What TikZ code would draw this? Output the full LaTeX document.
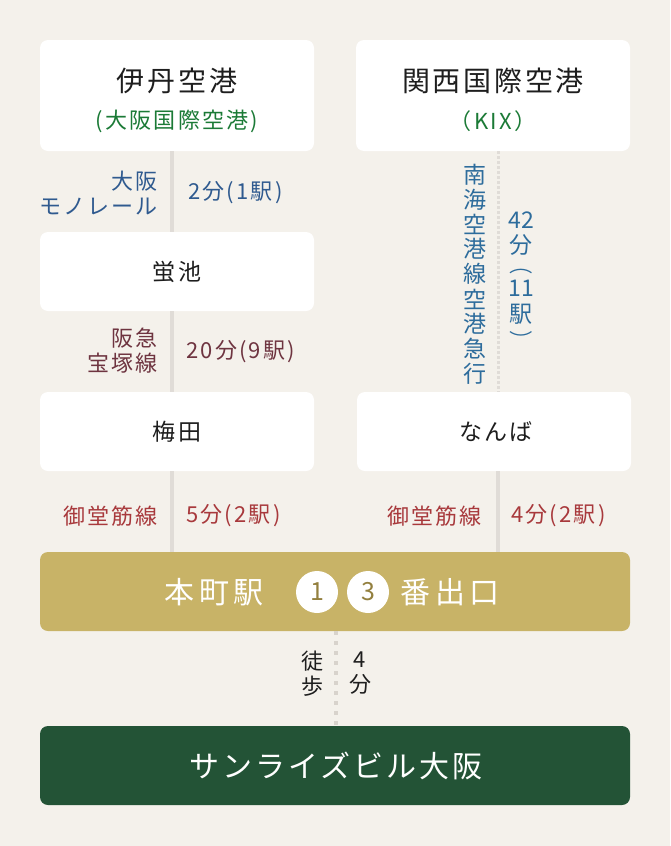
\documentclass[tikz,border=0pt]{standalone}
\usepackage{fontspec}
\usepackage{graphicx}
\setmainfont{Noto Sans CJK JP}
\newfontfamily\jp[LetterSpace=10]{Noto Sans CJK JP}
\newfontfamily\jpw[LetterSpace=15]{Noto Sans CJK JP}
\newfontfamily\jpn{Noto Sans CJK JP}
\newcommand{\vparen}[1]{\scalebox{1.3}[1]{\fontsize{18}{23}\selectfont #1}}
\definecolor{bg}{HTML}{F4F1EB}
\definecolor{ink}{HTML}{1E1E1E}
\definecolor{kgreen}{HTML}{1B7A36}
\definecolor{mono}{HTML}{2F5A8F}
\definecolor{nankai}{HTML}{2D6C9C}
\definecolor{hankyu}{HTML}{6E3440}
\definecolor{mido}{HTML}{A8393C}
\definecolor{gold}{HTML}{C8B367}
\definecolor{golddark}{HTML}{93803F}
\definecolor{sgreen}{HTML}{235336}
\definecolor{linegray}{HTML}{E0DCD7}
\definecolor{dotgray}{HTML}{D8D3CC}
\begin{document}
\begin{tikzpicture}[x=1pt,y=-1pt,
  card/.style={fill=white, rounded corners=8pt, inner sep=0pt, minimum width=274pt},
  bar/.style={rounded corners=8pt, inner sep=0pt, minimum width=590pt, minimum height=79pt},
  title/.style={text=ink, inner sep=0pt, font=\jp\fontsize{28}{30}\selectfont},
  sub/.style={text=kgreen, inner sep=0pt, font=\jp\fontsize{22}{24}\selectfont},
  stname/.style={text=ink, inner sep=0pt, font=\jp\fontsize{23}{25}\selectfont},
  lbl/.style={inner sep=0pt, font=\jp\fontsize{22}{25}\selectfont},
  vchar/.style={inner sep=0pt, text=nankai, font=\jpn\fontsize{23}{25}\selectfont},
  bartext/.style={inner sep=0pt, text=white, font=\jpw\fontsize{30}{32}\selectfont},
  vline/.style={draw=linegray, line width=4pt},
  dline/.style={draw=linegray, line width=3pt, dash pattern=on 3pt off 2pt},
  dotline/.style={draw=dotgray, line width=4pt, dash pattern=on 4pt off 6pt},
  num/.style={circle, fill=white, minimum size=42pt, inner sep=0pt, text=golddark, font=\jpn\fontsize{25}{27}\selectfont}
]
\fill[bg] (0,0) rectangle (670,846);
\useasboundingbox (0,0) rectangle (670,846);

% cards
\node[card, minimum height=111pt] (itami) at (177,95.5) {};
\node[card, minimum height=111pt] (kix) at (493,95.5) {};
\node[card, minimum height=79pt] (hotaru) at (177,271.5) {};
\node[card, minimum height=79pt] (umeda) at (177,431.5) {};
\node[card, minimum height=79pt] (namba) at (494,431.5) {};
\node[bar, fill=gold] (honmachi) at (335,591.5) {};
\node[bar, fill=sgreen] (sunrise) at (335,765.5) {};

\coordinate (xl) at (172,0);
\coordinate (xr) at (498,0);
\coordinate (xm) at (336,0);

% connectors
\draw[vline] (itami.south -| xl) -- (hotaru.north -| xl);
\draw[vline] (hotaru.south -| xl) -- (umeda.north -| xl);
\draw[vline] (umeda.south -| xl) -- (honmachi.north -| xl);
\draw[dline] (kix.south -| xr) -- (namba.north -| xr);
\draw[vline] (namba.south -| xr) -- (honmachi.north -| xr);
\draw[dotline] (honmachi.south -| xm) -- (sunrise.north -| xm);

% card texts
\node[title] (itamiT) at (177,81) {伊丹空港};
\node[sub] (itamiS) at (177,121) {(大阪国際空港)};
\node[title] (kixT) at (493,81) {関西国際空港};
\node[sub] (kixS) at (493,121) {（KIX）};
\node[stname] (hotaruT) at (177,272) {蛍池};
\node[stname] (umedaT) at (177,432) {梅田};
\node[stname] (nambaT) at (496,432) {なんば};

% line labels
\node[lbl, text=mono, anchor=east, align=right] (monoL) at (158,193) {大阪\\モノレール};
\node[lbl, text=mono, anchor=west] (monoT) at (188,193) {2分(1駅)};
\node[lbl, text=hankyu, anchor=east, align=right] (hankyuL) at (158,351) {阪急\\宝塚線};
\node[lbl, text=hankyu, anchor=west] (hankyuT) at (186,352) {20分(9駅)};
\node[lbl, text=mido, anchor=east] (midoL1) at (158,516) {御堂筋線};
\node[lbl, text=mido, anchor=west] (midoT1) at (186,516) {5分(2駅)};
\node[lbl, text=mido, anchor=east] (midoL2) at (482,516) {御堂筋線};
\node[lbl, text=mido, anchor=west] (midoT2) at (511,516) {4分(2駅)};

% Nankai vertical label
\foreach \c [count=\i from 0] in {南,海,空,港,線,空,港,急,行}
  \node[vchar] (nk\i) at (475,{174.5+24.9*\i}) {\c};
\node[vchar, anchor=north, align=center, font=\jpn\fontsize{23}{23}\selectfont]
  (nktime) at (521,211.5) {42\\[2.3pt]分\\[-4pt]\vparen{︵}\\[0.5pt]11\\[3.3pt]駅\\[1pt]\vparen{︶}};

% Honmachi bar
\node[bartext] (honT) at (214,592) {本町駅};
\node[num] (n1) at (317,592) {1};
\node[num] (n3) at (368,592) {3};
\node[bartext] (exitT) at (450,592) {番出口};

% walk
\node[lbl, text=ink, align=center] (walkL) at (312,673.5) {徒\\歩};
\node[lbl, text=ink, align=center] (walkT) at (360,673.5) {4\\分};

% destination
\node[inner sep=0pt, text=white, font=\jp\fontsize{30}{32}\selectfont] (sunT) at (336,766) {サンライズビル大阪};
\end{tikzpicture}
\end{document}
